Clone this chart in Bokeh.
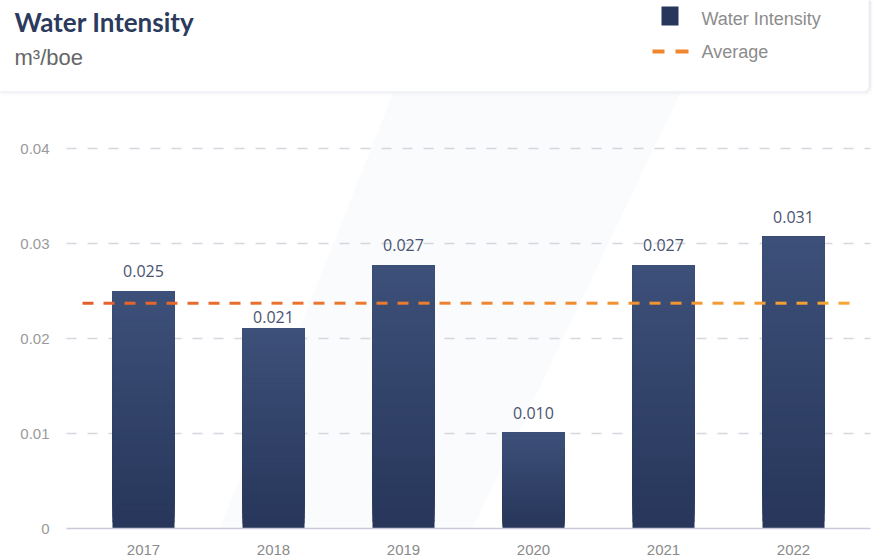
from bokeh.plotting import figure
from bokeh.models import Range1d, FixedTicker, Label, BoxAnnotation, ColumnDataSource
from bokeh.embed import file_html
from bokeh.resources import INLINE

# ---- data ----
years = ["2017", "2018", "2019", "2020", "2021", "2022"]
values = [0.0250, 0.0211, 0.0277, 0.0101, 0.0277, 0.0307]
value_labels = ["0.025", "0.021", "0.027", "0.010", "0.027", "0.031"]
y_ticks = [0, 0.01, 0.02, 0.03, 0.04]
y_tick_labels = ["0", "0.01", "0.02", "0.03", "0.04"]
average = sum(values) / len(values)

# ---- geometry (page pixels) ----
W, H = 881, 559
PX_PER_CAT = 130.0
PX_PER_UNIT_Y = 9500.0
FIRST_CAT_PX = 143.0
BASE_PX = 528.0             # y pixel of value 0


def dx(px):  # page x -> data x
    return (px - FIRST_CAT_PX) / PX_PER_CAT


def dy(py):  # page y -> data y
    return (BASE_PX - py) / PX_PER_UNIT_Y


def hex2rgb(h):
    h = h.lstrip("#")
    return tuple(int(h[i:i + 2], 16) for i in (0, 2, 4))


def mix(c0, c1, t):
    a, b = hex2rgb(c0), hex2rgb(c1)
    return "#%02x%02x%02x" % tuple(int(round(a[i] + (b[i] - a[i]) * t)) for i in range(3))


p = figure(width=W, height=H, output_backend="svg", toolbar_location=None,
           x_range=Range1d(dx(0), dx(W)), y_range=Range1d(dy(H), dy(0)),
           min_border=0, background_fill_color="white",
           border_fill_color="white")
p.outline_line_color = None
p.grid.visible = False

PLOT_L, PLOT_R = dx(66), dx(870)

# faint decorative background band
p.patch(x=[dx(393), dx(680), dx(472), dx(219)], y=[dy(92), dy(92), dy(528), dy(528)],
        fill_color="#fafbfc", line_color=None, level="underlay")

# dashed horizontal grid lines at the tick values
g = y_ticks[1:]
p.segment(x0=[PLOT_L] * len(g), x1=[PLOT_R] * len(g), y0=g, y1=g,
          line_color="#d6d6df", line_width=1.5, line_dash="10 11", level="underlay")

# ---- axes ----
p.yaxis.fixed_location = PLOT_L
p.yaxis.ticker = FixedTicker(ticks=y_ticks)
p.yaxis.major_label_overrides = {t: s for t, s in zip(y_ticks, y_tick_labels)}
p.yaxis.axis_line_color = None
p.yaxis.major_tick_line_color = None
p.yaxis.minor_tick_line_color = None
p.yaxis.major_label_standoff = 11
p.yaxis.major_label_text_font = "Liberation Sans"
p.yaxis.major_label_text_font_size = "15px"
p.yaxis.major_label_text_color = "#9a9a9a"

xt = list(range(len(years)))
p.xaxis.fixed_location = 0
p.xaxis.ticker = FixedTicker(ticks=xt)
p.xaxis.bounds = (PLOT_L, PLOT_R)
p.xaxis.major_label_overrides = {i: y for i, y in zip(xt, years)}
p.xaxis.axis_line_color = "#c9c9dc"
p.xaxis.axis_line_width = 1.5
p.xaxis.major_tick_line_color = None
p.xaxis.minor_tick_line_color = None
p.xaxis.major_label_standoff = 10
p.xaxis.major_label_text_font = "Liberation Sans"
p.xaxis.major_label_text_font_size = "15px"
p.xaxis.major_label_text_color = "#8a8a8a"

# ---- gradient bars (stacked overlapping slices) ----
N = 40
half = 31.0 / PX_PER_CAT
ql, qr, qb, qt, qc = [], [], [], [], []
for k in range(N):
    for i, v in enumerate(values):
        ql.append(i - half)
        qr.append(i + half)
        qb.append(v * k / N)
        qt.append(v)
        qc.append(mix("#27365a", "#3d5079", k / (N - 1)))
p.quad(left=ql, right=qr, bottom=qb, top=qt, fill_color=qc, line_color=None)

# ---- value labels (moved below the average line when they would collide) ----
offsets = []
for v in values:
    centre_px = (v - average) * PX_PER_UNIT_Y + 20
    offsets.append(-11 if abs(centre_px) < 10 else -20)
src = ColumnDataSource(dict(x=xt, y=values, t=value_labels, off=offsets))
p.text(x="x", y="y", text="t", source=src, text_align="center",
       text_baseline="middle", y_offset="off", text_font_size="16px",
       text_font={"value": "Open Sans"}, text_color="#4a5472")

# ---- average dashed line with gradient ----
dash_px, period_px = 11.0, 21.0
start = -0.5 + 4.0 / PX_PER_CAT
end = len(values) - 0.5 - 2.0 / PX_PER_CAT
sx0, sx1, scol = [], [], []
xx = start
while xx < end:
    xe = min(xx + dash_px / PX_PER_CAT, end)
    sx0.append(xx)
    sx1.append(xe)
    t = (xx - start) / (end - start)
    scol.append(mix("#e4602c", "#f7a733", t))
    xx += period_px / PX_PER_CAT
p.segment(x0=sx0, y0=[average] * len(sx0), x1=sx1, y1=[average] * len(sx0),
          line_color=scol, line_width=3)

# ---- header card ----
for k, a in enumerate([0.45, 0.3, 0.18, 0.09, 0.04]):
    p.add_layout(BoxAnnotation(left=dx(-10), right=dx(869 + k * 0.7), top=dy(-10),
                               bottom=dy(91 + k), fill_alpha=0, line_color="#d3d8e2",
                               line_alpha=a, line_width=1.2, border_radius=6))
p.add_layout(BoxAnnotation(left=dx(-10), right=dx(868), top=dy(-10), bottom=dy(91),
                           fill_color="white", fill_alpha=1, line_color="#eceef3",
                           line_width=1, border_radius=5))

p.add_layout(Label(x=dx(14), y=dy(21), text="Water Intensity", text_font="Lato",
                   text_font_style="bold", text_font_size="26px", text_color="#2b3a5d",
                   text_baseline="middle"))
p.add_layout(Label(x=dx(14), y=dy(57), text="m³/boe", text_font="Liberation Sans",
                   text_font_size="22px", text_color="#666666",
                   text_baseline="middle"))

# ---- legend ----
p.add_layout(BoxAnnotation(left=dx(661), right=dx(678), top=dy(6), bottom=dy(25),
                           fill_color="#27365a", fill_alpha=1, line_color=None))
p.add_layout(Label(x=dx(701), y=dy(18.5), text="Water Intensity", text_font="Liberation Sans",
                   text_font_size="18px", text_color="#8c8c8c",
                   text_baseline="middle"))
for a, b in [(652, 664), (675, 688)]:
    p.add_layout(BoxAnnotation(left=dx(a), right=dx(b), top=dy(49), bottom=dy(53),
                               fill_color="#f0862f", fill_alpha=1, line_color=None))
p.add_layout(Label(x=dx(701), y=dy(51.5), text="Average", text_font="Liberation Sans",
                   text_font_size="18px", text_color="#8c8c8c",
                   text_baseline="middle"))

open("out.html", "w").write(file_html(p, INLINE))
